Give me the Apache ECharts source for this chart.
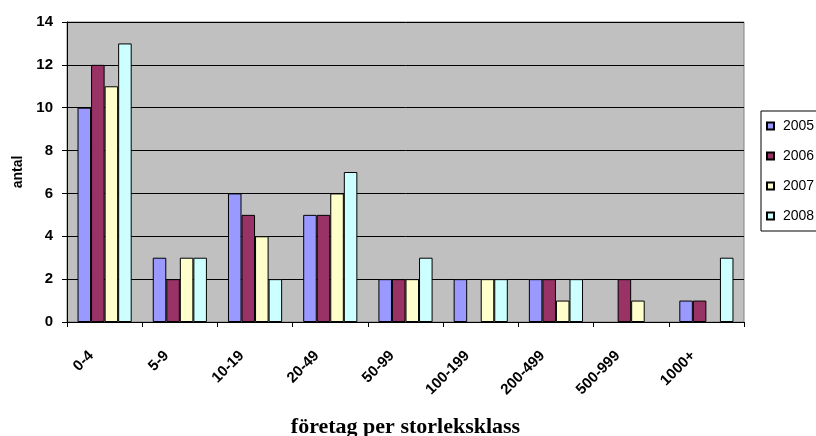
<!DOCTYPE html>
<html><head><meta charset="utf-8">
<script src="https://cdn.jsdelivr.net/npm/echarts@6/dist/echarts.min.js"></script>
<style>html,body{margin:0;padding:0;background:#fff}#c{width:816px;height:436px}</style>
</head><body><div id="c"></div>
<script>
const categories = ['0-4','5-9','10-19','20-49','50-99','100-199','200-499','500-999','1000+'];
const s2005 = [10,3,6,5,2,2,2,0,1];
const s2006 = [12,2,5,5,2,0,2,2,1];
const s2007 = [11,3,4,6,2,2,1,1,0];
const s2008 = [13,3,2,7,3,2,2,0,3];
const seriesNames = ['2005','2006','2007','2008'];
const colors = ['#9999FF','#993366','#FFFFCC','#CCFFFF'];
const yTicks = {min:0, max:14, interval:2};

const chart = echarts.init(document.getElementById('c'));
const data = [s2005,s2006,s2007,s2008];
chart.setOption({
  animation:false,
  grid:{left:67,right:72,top:22,bottom:114,containLabel:false,outerBoundsMode:'none',show:true,backgroundColor:'#C0C0C0',borderColor:'#808080',borderWidth:1},
  legend:{orient:'vertical',left:761,top:111,backgroundColor:'#fff',borderColor:'#000',borderWidth:1,
    padding:[8,30,8,5],itemWidth:7,itemHeight:7,itemGap:16,icon:'rect',
    textStyle:{fontFamily:'Liberation Sans, Arial',fontSize:14,color:'#000',padding:[0,0,0,4]},
    data:seriesNames},
  xAxis:{type:'category',data:categories,
    name:'företag per storleksklass',nameLocation:'middle',nameGap:94,
    nameTextStyle:{fontFamily:'Liberation Serif, Times New Roman',fontWeight:'bold',fontSize:22,color:'#000'},
    axisLine:{lineStyle:{color:'#000'}},
    axisTick:{show:true,length:5,lineStyle:{color:'#000'}},
    axisLabel:{rotate:45,margin:18,padding:[0,19,0,0],fontFamily:'Liberation Sans, Arial',fontWeight:'bold',fontSize:15,color:'#000'}},
  yAxis:{type:'value',min:yTicks.min,max:yTicks.max,interval:yTicks.interval,
    name:'antal',nameLocation:'middle',nameGap:42,nameRotate:90,
    nameTextStyle:{fontFamily:'Liberation Sans, Arial',fontWeight:'bold',fontSize:14,color:'#000'},
    axisLine:{show:true,lineStyle:{color:'#000'}},
    axisTick:{show:true,length:5,lineStyle:{color:'#000'}},
    splitLine:{lineStyle:{color:'#000'}},
    axisLabel:{margin:14,fontFamily:'Liberation Sans, Arial',fontWeight:'bold',fontSize:15,color:'#000'}},
  series:seriesNames.map((n,i)=>({name:n,type:'bar',data:data[i].map(v=>v===0?'-':v),barGap:'0%',barCategoryGap:'28%',
    itemStyle:{color:colors[i],borderColor:'#000',borderWidth:1}}))
});
</script></body></html>
